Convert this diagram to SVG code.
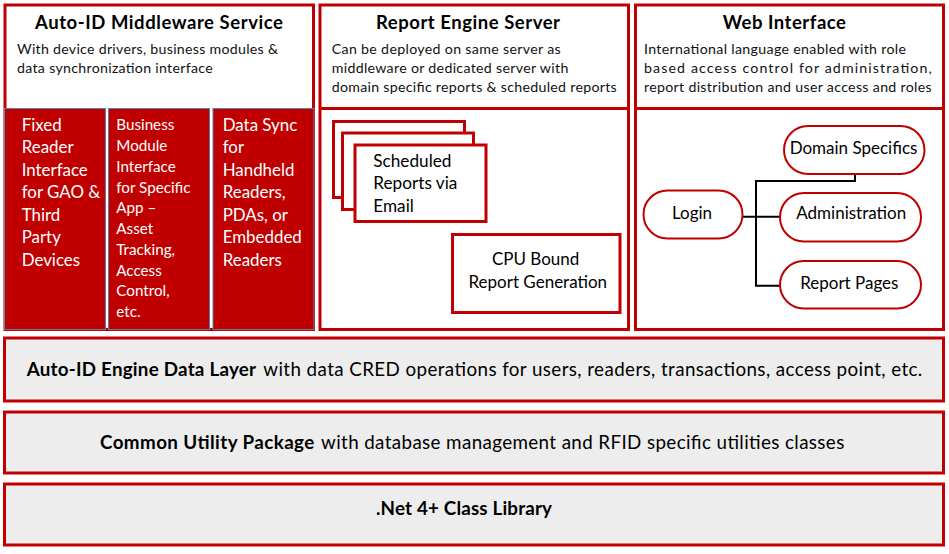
<svg xmlns="http://www.w3.org/2000/svg" width="949" height="554" viewBox="0 0 949 554">
  <style>
    text { font-family: "Lato", "Carlito", "Liberation Sans", sans-serif; fill: #000; }
    .title { font-size: 18.5px; font-weight: bold; text-anchor: middle; }
    .sub { font-size: 14.2px; fill: #111; }
    .panel { fill: #fff; stroke: #c00000; stroke-width: 3; }
    .div { stroke: #c00000; stroke-width: 3; }
    .redbox { fill: #c00000; stroke: #5a7fa8; stroke-width: 1; }
    .wt { fill: #fff; font-size: 16.9px; }
    .wt2 { fill: #fff; font-size: 15.2px; }
    .rbox { fill: #fff; stroke: #c00000; stroke-width: 3; }
    .bt { font-size: 17.2px; }
    .pill { fill: #fff; stroke: #c00000; stroke-width: 2; }
    .pt { font-size: 17px; text-anchor: middle; }
    .layer { fill: #ededed; stroke: #c00000; stroke-width: 3; }
    .lt { font-size: 18.8px; }
    .b { font-weight: bold; }
    .conn { fill: none; stroke: #000; stroke-width: 2; }
  </style>

  <!-- Auto-ID Middleware Service -->
  <g id="middleware">
    <rect class="panel" x="5" y="5" width="308.5" height="324.5"/>
    <text class="title" x="159" y="29" textLength="248">Auto-ID Middleware Service</text>
    <text class="sub" x="17" y="54.3" textLength="261">With device drivers, business modules &amp;</text>
    <text class="sub" x="17" y="73.3" textLength="195.7">data synchronization interface</text>
    <g id="fixed-reader">
      <rect class="redbox" x="4.5" y="108.5" width="101" height="221"/>
      <text class="wt" x="21.7">
        <tspan x="21.7" y="131">Fixed</tspan>
        <tspan x="21.7" y="153.4">Reader</tspan>
        <tspan x="21.7" y="175.8">Interface</tspan>
        <tspan x="21.7" y="198.2">for GAO &amp;</tspan>
        <tspan x="21.7" y="220.6">Third</tspan>
        <tspan x="21.7" y="243">Party</tspan>
        <tspan x="21.7" y="265.5">Devices</tspan>
      </text>
    </g>
    <g id="business-module">
      <rect class="redbox" x="108.5" y="108.5" width="101" height="221"/>
      <text class="wt2" x="116.3">
        <tspan x="116.3" y="130">Business</tspan>
        <tspan x="116.3" y="150.9">Module</tspan>
        <tspan x="116.3" y="171.7">Interface</tspan>
        <tspan x="116.3" y="192.6">for Specific</tspan>
        <tspan x="116.3" y="213.3">App –</tspan>
        <tspan x="116.3" y="234">Asset</tspan>
        <tspan x="116.3" y="254.6">Tracking,</tspan>
        <tspan x="116.3" y="275.5">Access</tspan>
        <tspan x="116.3" y="296.3">Control,</tspan>
        <tspan x="116.3" y="316.5">etc.</tspan>
      </text>
    </g>
    <g id="data-sync">
      <rect class="redbox" x="213" y="108.5" width="101" height="221"/>
      <text class="wt" x="222.7">
        <tspan x="222.7" y="131">Data Sync</tspan>
        <tspan x="222.7" y="153.4">for</tspan>
        <tspan x="222.7" y="175.8">Handheld</tspan>
        <tspan x="222.7" y="198.2">Readers,</tspan>
        <tspan x="222.7" y="220.6">PDAs, or</tspan>
        <tspan x="222.7" y="243">Embedded</tspan>
        <tspan x="222.7" y="265.5">Readers</tspan>
      </text>
    </g>
  </g>

  <!-- Report Engine Server -->
  <g id="report-engine">
    <rect class="panel" x="320" y="5" width="308.5" height="324.5"/>
    <line class="div" x1="320" y1="108.5" x2="628.5" y2="108.5"/>
    <text class="title" x="468" y="29" textLength="184">Report Engine Server</text>
    <text class="sub" x="331.7" y="54" textLength="229">Can be deployed on same server as</text>
    <text class="sub" x="331.7" y="72.8" textLength="236.6">middleware or dedicated server with</text>
    <text class="sub" x="331.7" y="91.6" textLength="285">domain specific reports &amp; scheduled reports</text>
    <g id="scheduled-reports">
      <rect class="rbox" x="333.5" y="121.5" width="131" height="76"/>
      <rect class="rbox" x="342.5" y="133" width="131" height="76.5"/>
      <rect class="rbox" x="355" y="145" width="131" height="76.5"/>
      <text class="bt">
        <tspan x="373.3" y="166.7">Scheduled</tspan>
        <tspan x="373.3" y="189">Reports via</tspan>
        <tspan x="373.3" y="211.5">Email</tspan>
      </text>
    </g>
    <g id="cpu-bound">
      <rect class="rbox" x="452.5" y="234.5" width="167.5" height="78"/>
      <text class="bt" text-anchor="middle" style="font-size:17px">
        <tspan x="537.8" y="265">CPU Bound</tspan>
        <tspan x="537.8" y="288.3">Report Generation</tspan>
      </text>
    </g>
  </g>

  <!-- Web Interface -->
  <g id="web-interface">
    <rect class="panel" x="635.5" y="5" width="308" height="324.5"/>
    <line class="div" x1="635.5" y1="108.5" x2="943.5" y2="108.5"/>
    <text class="title" x="784.3" y="29" textLength="123.3">Web Interface</text>
    <text class="sub" x="644" y="54" textLength="262">International language enabled with role</text>
    <text class="sub" x="644" y="72.8" textLength="287.7">based access control for administration,</text>
    <text class="sub" x="644" y="91.6" textLength="287.7">report distribution and user access and roles</text>
  </g>

  <g id="connectors">
    <path class="conn" d="M743,216.7 H780"/>
    <path class="conn" d="M780,285.7 H756 V181 H855 V174"/>
  </g>

  <g id="login">
    <rect class="pill" x="643.5" y="190.5" width="99" height="48" rx="24"/>
    <text class="pt" x="692" y="219.3">Login</text>
  </g>
  <g id="domain-specifics">
    <rect class="pill" x="784" y="126" width="140.5" height="48" rx="24"/>
    <text class="pt" x="853.5" y="154.3">Domain Specifics</text>
  </g>
  <g id="administration">
    <rect class="pill" x="780" y="193" width="141" height="48.5" rx="24"/>
    <text class="pt" x="851.2" y="219.3">Administration</text>
  </g>
  <g id="report-pages">
    <rect class="pill" x="780" y="261" width="141" height="47.5" rx="23.7"/>
    <text class="pt" x="849.3" y="289">Report Pages</text>
  </g>

  <!-- Layers -->
  <g id="data-layer">
    <rect class="layer" x="4.5" y="338" width="939" height="63"/>
    <text class="lt b" x="26.7" y="375.7" textLength="229.3">Auto-ID Engine Data Layer</text>
    <text class="lt" x="263.3" y="375.7" textLength="659">with data CRED operations for users, readers, transactions, access point, etc.</text>
  </g>
  <g id="utility-package">
    <rect class="layer" x="4.5" y="412" width="939" height="61"/>
    <text class="lt b" x="100" y="449" textLength="214.3">Common Utility Package</text>
    <text class="lt" x="321" y="449" textLength="523.3">with database management and RFID specific utilities classes</text>
  </g>
  <g id="class-library">
    <rect class="layer" x="4.5" y="484" width="939" height="61"/>
    <text class="lt b" x="376" y="515.3" textLength="176">.Net 4+ Class Library</text>
  </g>
</svg>
